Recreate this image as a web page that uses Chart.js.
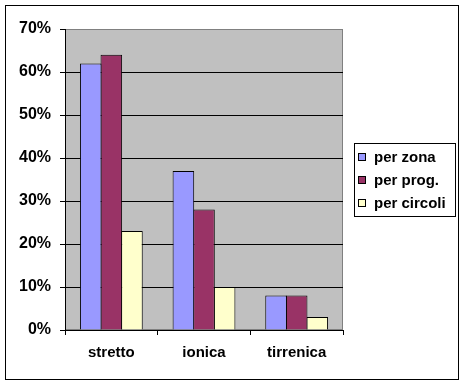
<!DOCTYPE html>
<html>
<head>
<meta charset="utf-8">
<script src="https://cdn.jsdelivr.net/npm/chart.js@4/dist/chart.umd.min.js"></script>
<style>
  body { margin: 0; background: #fff; }
  #wrap { width: 464px; height: 384px; }
</style>
</head>
<body>
<div id="wrap"><canvas id="chart" width="464" height="384"></canvas></div>
<script>
const categories = ['stretto', 'ionica', 'tirrenica'];
const seriesNames = ['per zona', 'per prog.', 'per circoli'];
const perZona = [62, 37, 8];
const perProg = [64, 28, 8];
const perCircoli = [23, 10, 3];
const yTicks = [0, 10, 20, 30, 40, 50, 60, 70];

const colors = ['#9999FF', '#993366', '#FFFFCC'];
const font = 'Liberation Sans, Arial, sans-serif';

// gray plot area with dark gray frame, drawn under the bars
const plotBackground = {
  id: 'plotBackground',
  beforeDraw(chart) {
    const { ctx, chartArea: a } = chart;
    ctx.save();
    ctx.fillStyle = '#C0C0C0';
    ctx.fillRect(a.left, a.top, a.right - a.left, a.bottom - a.top);
    ctx.strokeStyle = '#808080';
    ctx.lineWidth = 1;
    ctx.strokeRect(a.left + 0.5, a.top + 0.5, a.right - a.left - 1, a.bottom - a.top - 1);
    ctx.restore();
  }
};

// outer frame and the boxed legend on the right
const frameAndLegend = {
  id: 'frameAndLegend',
  afterDraw(chart) {
    const ctx = chart.ctx;
    ctx.save();
    ctx.strokeStyle = '#000';
    ctx.lineWidth = 1;
    ctx.strokeRect(5.5, 5.5, 453, 374);

    ctx.strokeRect(354.5, 143.5, 101, 73);
    ctx.font = 'bold 15px ' + font;
    ctx.textBaseline = 'middle';
    ctx.fillStyle = '#000';
    chart.data.datasets.forEach((ds, i) => {
      const y = 157 + i * 23;
      ctx.fillStyle = ds.backgroundColor;
      ctx.fillRect(358, y - 4, 8, 8);
      ctx.strokeRect(358.5, y - 3.5, 7, 7);
      ctx.fillStyle = '#000';
      ctx.fillText(ds.label, 374, y + 1);
    });
    ctx.restore();
  }
};

new Chart(document.getElementById('chart'), {
  type: 'bar',
  data: {
    labels: categories,
    datasets: [perZona, perProg, perCircoli].map((values, i) => ({
      label: seriesNames[i],
      data: values,
      backgroundColor: colors[i],
      borderColor: '#000',
      borderWidth: 1,
      inflateAmount: 0,
      categoryPercentage: 0.667,
      barPercentage: 1.048
    }))
  },
  options: {
    responsive: false,
    animation: false,
    layout: { padding: { top: 29, right: 121, left: 0, bottom: 0 } },
    plugins: {
      legend: { display: false },
      tooltip: { enabled: false }
    },
    scales: {
      x: {
        offset: true,
        grid: { offset: true, drawOnChartArea: false, drawTicks: true, tickLength: 5, tickColor: '#000' },
        border: { color: '#000', width: 1 },
        ticks: { color: '#000', font: { family: font, size: 15, weight: 'bold' }, padding: 9, maxRotation: 0 },
        afterFit(scale) { scale.height = 54; }
      },
      y: {
        min: 0,
        max: 70,
        afterBuildTicks(scale) { scale.ticks = yTicks.map(v => ({ value: v })); },
        grid: {
          color: c => (c.tick && c.tick.value === 70 ? '#808080' : '#000'),
          tickColor: '#000',
          tickLength: 5
        },
        border: { color: '#000', width: 1 },
        ticks: {
          color: '#000',
          font: { family: font, size: 16, weight: 'bold' },
          padding: 9,
          callback: v => v + '%'
        },
        afterFit(scale) { scale.width = 65; }
      }
    }
  },
  plugins: [plotBackground, frameAndLegend]
});
</script>
</body>
</html>
